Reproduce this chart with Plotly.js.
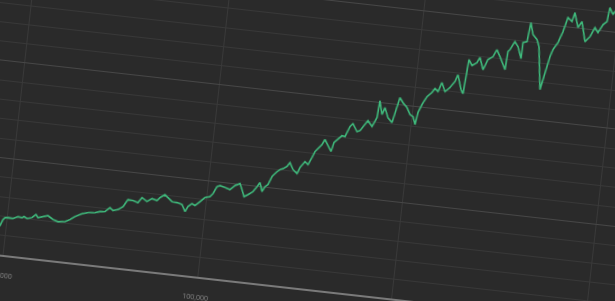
<!DOCTYPE html>
<html>
<head>
<meta charset="utf-8">
<script src="https://cdn.plot.ly/plotly-3.0.1.min.js"></script>
<style>
  html, body { margin:0; padding:0; width:615px; height:301px; overflow:hidden; background:#2a2a2a; }
  #wrap { position:absolute; left:-10px; top:-80.6px; width:680px; height:400px;
          transform-origin:10px 80.6px; transform:rotate(6.4deg); filter:blur(0.35px); }
</style>
</head>
<body>
<div id="wrap"></div>
<script>
const xValues = [47100,48310,48900,49350,50120,51420,52630,53680,54160,54980,
56220,57150,57750,58990,60240,61620,62950,64730,65950,67130,
68830,70330,72110,73350,74620,75780,76630,77870,79060,80130,
81430,82760,83640,85020,86210,87540,88210,89400,90250,91380,
92680,94010,94970,95590,96530,97350,98500,99660,100910,101580,
102400,103140,104470,105790,106950,108170,108850,109560,110520,111700,
112580,113230,113990,114610,115320,116110,117240,117940,118680,119640,
120290,121250,122380,122970,124070,124920,125740,126330,127010,127910,
128540,129470,130400,130910,131590,132750,133540,134520,135200,136450,
137180,138280,138930,140120,141140,141410,142320,142890,143930,145090,
145910,146420,147320,148480,149450,150270,151000,151420,152210,153260,
154410,155060,155910,156670,157690,158850,159950,160520,161710,162330,
162890,163820,165010,165630,166730,167320,167720,168910,169720,170690,
172330,172580,173030,174070,174980,176090,176140,177130,177600,178450,
179610,180320,181800,182280,182930,183410,183970,185040,186000,186870,
188000,188510,189700,190550,191880,193010,194030,194930,195980,196910,
197270,198230,198660,201000];

const yValues = [13.6,14.9,18.2,19.3,19.5,19.3,20.6,20.3,21.0,20.1,
20.9,22.7,21.2,22.0,22.8,21.1,20.3,20.7,22.1,23.9,
25.8,26.7,27.1,27.9,28.2,30.5,29.2,30.0,31.8,35.7,
35.5,34.7,37.5,35.8,37.6,36.9,38.6,40.4,39.0,37.2,
37.0,36.3,32.8,35.6,37.3,36.5,38.8,41.2,42.0,43.7,
47.5,48.2,47.5,46.7,49.1,50.4,47.4,43.9,45.2,47.0,
49.8,52.1,47.6,50.3,51.5,55.9,58.7,59.9,60.6,61.9,
64.1,60.7,58.9,62.1,65.5,64.1,68.0,71.2,72.9,75.2,
78.0,75.1,72.2,77.0,78.7,81.0,80.7,86.1,87.8,83.9,
84.6,88.0,90.2,87.4,92.3,101.2,94.1,97.9,92.9,90.6,
99.1,103.9,101.5,99.2,95.8,94.9,90.9,97.3,101.6,106.0,
108.4,110.6,109.2,114.1,109.6,112.0,115.4,119.1,111.6,109.6,
127.5,124.6,126.4,129.2,123.1,126.4,128.6,130.4,134.2,130.8,
124.4,133.9,135.0,139.4,137.0,131.0,139.4,140.1,150.1,144.1,
141.7,138.2,116.1,121.5,128.4,133.7,137.5,141.4,147.3,154.8,
153.0,157.8,150.3,153.6,143.4,146.3,151.2,148.8,153.2,155.0,
162.4,159.0,160.6,164.8];

const xTickValues = [50000, 100000, 150000, 200000];

const trace = {
  x: xValues, y: yValues, type: 'scatter', mode: 'lines',
  line: { color: '#3fba7c', width: 1.6, shape: 'linear' },
  hoverinfo: 'skip'
};

const layout = {
  width: 680, height: 400,
  margin: { l: 0, r: 0, t: 0, b: 66, pad: 0 },
  paper_bgcolor: '#2a2a2a', plot_bgcolor: '#2a2a2a',
  showlegend: false,
  xaxis: {
    range: [39299, 213379],
    tickvals: xTickValues, tickformat: ',d',
    showgrid: true, gridcolor: '#393939', gridwidth: 1,
    zeroline: false,
    showline: true, linecolor: '#7a7a7a', linewidth: 1.5,
    ticks: 'outside', ticklen: 13, tickcolor: 'rgba(0,0,0,0)',
    tickfont: { family: 'Open Sans, sans-serif', size: 7, color: '#8a8a8a' }
  },
  yaxis: {
    range: [0, 173.05],
    dtick: 50, tick0: 0,
    showgrid: true, gridcolor: '#474747', gridwidth: 1,
    minor: { dtick: 10, showgrid: true, gridcolor: '#383838', gridwidth: 1 },
    zeroline: false, showline: false, showticklabels: false, ticks: ''
  }
};

Plotly.newPlot('wrap', [trace], layout, { staticPlot: true, displayModeBar: false });
</script>
</body>
</html>
